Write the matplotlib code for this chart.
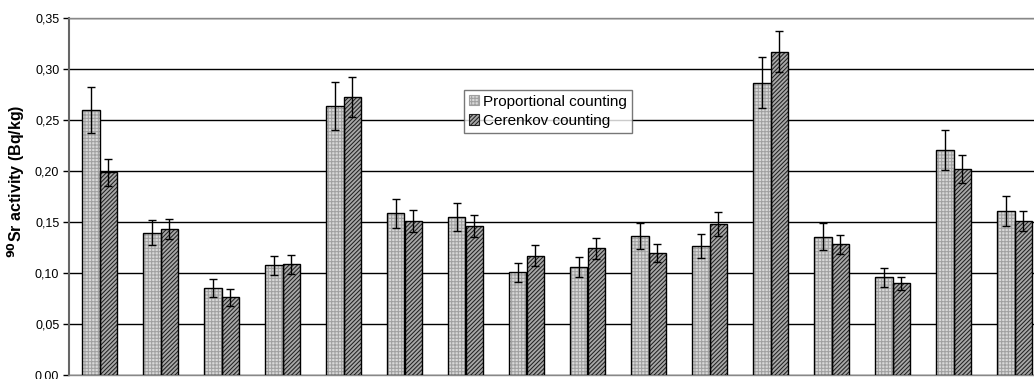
import numpy as np
import matplotlib
matplotlib.use('Agg')
import matplotlib.pyplot as plt
from matplotlib.ticker import FuncFormatter
from matplotlib.patches import Patch

plt.rcParams['font.family'] = ['Liberation Sans', 'DejaVu Sans']
plt.rcParams['hatch.linewidth'] = 0.75

# 90Sr activity per sample, two counting methods
prop = [0.260, 0.1395, 0.085, 0.1075, 0.264, 0.1585, 0.155, 0.1007,
        0.1056, 0.136, 0.1265, 0.2866, 0.1356, 0.0958, 0.2206, 0.1608]
prop_err = [0.0226, 0.0125, 0.009, 0.0095, 0.0235, 0.0144, 0.014, 0.0094,
            0.0098, 0.0127, 0.0115, 0.0247, 0.013, 0.0094, 0.0196, 0.0147]
cer = [0.1987, 0.1434, 0.076, 0.1085, 0.2722, 0.151, 0.146, 0.117,
       0.1242, 0.1193, 0.148, 0.317, 0.128, 0.0899, 0.2016, 0.1507]
cer_err = [0.0134, 0.0098, 0.008, 0.0095, 0.0196, 0.011, 0.011, 0.0102,
           0.010, 0.0088, 0.012, 0.0203, 0.009, 0.0065, 0.0137, 0.010]

x = np.arange(len(prop))
w = 0.287

prop_style = dict(facecolor='#d8d8d8', edgecolor='#a0a0a0', hatch='+++++')
cer_style = dict(facecolor='#a8a8a8', edgecolor='#222222', hatch='////////')

fig = plt.figure(figsize=(10.34, 3.79), dpi=100)
ax = fig.add_axes([69/1034, 4/379, 976/1034, 357/379])

# hatched fills first, then black outlines on top
ax.bar(x - w/2, prop, w, linewidth=0, zorder=3, **prop_style)
ax.bar(x + w/2, cer, w, linewidth=0, zorder=3, **cer_style)
ax.bar(x - w/2, prop, w, fill=False, edgecolor='black', linewidth=1, zorder=4)
ax.bar(x + w/2, cer, w, fill=False, edgecolor='black', linewidth=1, zorder=4)

ax.errorbar(x - w/2, prop, yerr=prop_err, fmt='none', ecolor='black',
            elinewidth=1, capsize=3, capthick=1, zorder=5)
ax.errorbar(x + w/2, cer, yerr=cer_err, fmt='none', ecolor='black',
            elinewidth=1, capsize=3, capthick=1, zorder=5)

h1 = Patch(linewidth=0.8, **prop_style)
h2 = Patch(linewidth=0.8, **cer_style)
leg = ax.legend([h1, h2], ['Proportional counting', 'Cerenkov counting'],
                loc='upper left', bbox_to_anchor=((464-69)/976, (375-90)/357),
                fontsize=11, frameon=True, fancybox=False, handlelength=0.65,
                handleheight=0.65, handletextpad=0.3, borderpad=0.3,
                labelspacing=0.35, borderaxespad=0)
leg.get_frame().set_edgecolor('#555555')
leg.get_frame().set_linewidth(1)
leg.set_zorder(6)

ax.set_xlim(-0.5, len(prop) - 0.5)
ax.set_ylim(0, 0.35)
ax.set_yticks(np.arange(0, 0.351, 0.05))
ax.yaxis.set_major_formatter(FuncFormatter(lambda v, p: f'{v:.2f}'.replace('.', ',')))
ax.set_xticks([])
ax.tick_params(axis='y', labelsize=9, length=4, width=1, direction='out', pad=3)
ax.yaxis.grid(True, color='black', linewidth=1)
ax.set_axisbelow(True)

for s in ['top', 'bottom', 'right']:
    ax.spines[s].set_color('#888888')
    ax.spines[s].set_linewidth(1)
ax.spines['left'].set_color('#666666')
ax.spines['left'].set_linewidth(1.5)

ax.set_ylabel(r'$^{\mathbf{90}}$Sr activity (Bq/kg)', fontsize=11.5, fontweight='bold')
ax.yaxis.set_label_coords(-42/976, (375-181)/357)

fig.savefig('out.png', dpi=100)
